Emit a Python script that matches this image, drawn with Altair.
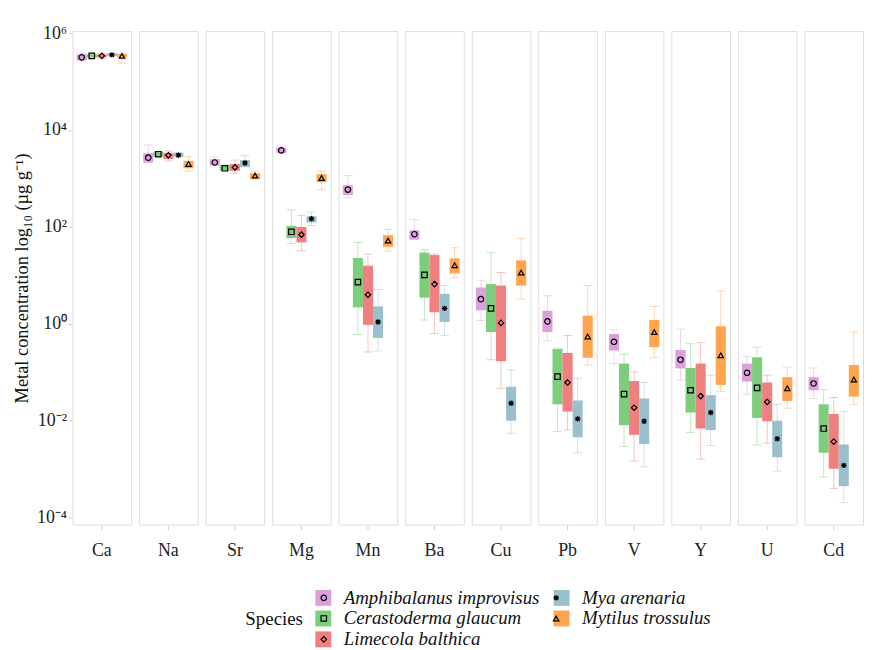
import altair as alt
import pandas as pd

metals = ["Ca", "Na", "Sr", "Mg", "Mn", "Ba", "Cu", "Pb", "V", "Y", "U", "Cd"]
species = ["Amphibalanus improvisus", "Cerastoderma glaucum", "Limecola balthica",
           "Mya arenaria", "Mytilus trossulus"]
colors = ["#DDA0DD", "#7CCD7C", "#F08080", "#9AC0CD", "#FFA54F"]
shapes = ["circle", "square", "diamond",
          "M-1,0L1,0M0,-1L0,1M-0.75,-0.75L0.75,0.75M-0.75,0.75L0.75,-0.75",
          "triangle-up"]

# log10 values per metal: [whisker low, Q1, median, Q3, whisker high]
amphibalanus = [
    [5.42, 5.44, 5.50, 5.56, 5.58], [3.33, 3.33, 3.43, 3.52, 3.69],
    [3.27, 3.27, 3.33, 3.40, 3.44], [3.52, 3.53, 3.58, 3.63, 3.66],
    [2.60, 2.66, 2.77, 2.86, 3.06], [1.74, 1.74, 1.85, 1.93, 2.15],
    [0.07, 0.28, 0.51, 0.75, 0.90], [-0.35, -0.17, 0.05, 0.27, 0.58],
    [-0.82, -0.55, -0.37, -0.21, -0.12], [-1.16, -0.92, -0.74, -0.54, -0.11],
    [-1.45, -1.19, -1.01, -0.82, -0.67], [-1.54, -1.37, -1.23, -1.10, -0.91],
]
cerastoderma = [
    [5.50, 5.50, 5.53, 5.56, 5.57], [3.45, 3.45, 3.50, 3.55, 3.55],
    [3.16, 3.16, 3.21, 3.28, 3.28], [1.66, 1.77, 1.90, 2.02, 2.35],
    [-0.22, 0.34, 0.86, 1.36, 1.68], [0.08, 0.54, 1.01, 1.47, 1.53],
    [-0.74, -0.17, 0.32, 0.82, 1.47], [-2.22, -1.66, -1.09, -0.52, -0.50],
    [-2.53, -2.09, -1.45, -0.82, -0.63], [-2.24, -1.83, -1.37, -0.91, -0.41],
    [-2.50, -1.94, -1.32, -0.69, -0.48], [-3.16, -2.66, -2.16, -1.66, -1.36],
]
limecola = [
    [5.48, 5.50, 5.53, 5.56, 5.58], [3.36, 3.40, 3.48, 3.53, 3.57],
    [3.11, 3.16, 3.23, 3.30, 3.38], [1.51, 1.68, 1.84, 2.00, 2.24],
    [-0.58, -0.02, 0.60, 1.20, 1.44], [-0.20, 0.24, 0.82, 1.42, 1.44],
    [-1.33, -0.77, 0.02, 0.79, 1.06], [-2.19, -1.81, -1.21, -0.60, -0.24],
    [-2.83, -2.29, -1.73, -1.18, -0.99], [-2.79, -2.16, -1.49, -0.82, -0.39],
    [-2.46, -2.01, -1.61, -1.21, -1.06], [-3.40, -2.99, -2.43, -1.86, -1.52],
]
mya = [
    [5.53, 5.53, 5.55, 5.58, 5.58], [3.45, 3.45, 3.48, 3.53, 3.53],
    [3.24, 3.24, 3.32, 3.38, 3.47], [2.03, 2.09, 2.17, 2.22, 2.31],
    [-0.56, -0.29, 0.04, 0.36, 0.71], [-0.24, 0.04, 0.32, 0.62, 0.79],
    [-2.26, -2.00, -1.64, -1.30, -0.95], [-2.66, -2.34, -1.96, -1.58, -1.12],
    [-2.95, -2.48, -2.01, -1.54, -1.21], [-2.51, -2.19, -1.83, -1.47, -1.06],
    [-3.04, -2.75, -2.37, -2.00, -1.66], [-3.69, -3.35, -2.92, -2.49, -1.81],
]
mytilus = [
    [5.38, 5.50, 5.53, 5.57, 5.57], [3.15, 3.21, 3.30, 3.36, 3.45],
    [2.99, 2.99, 3.06, 3.11, 3.15], [2.77, 2.92, 3.01, 3.09, 3.15],
    [1.50, 1.59, 1.72, 1.83, 1.95], [0.95, 1.04, 1.21, 1.35, 1.57],
    [0.51, 0.79, 1.06, 1.31, 1.76], [-0.85, -0.70, -0.26, 0.17, 0.79],
    [-0.69, -0.48, -0.17, 0.08, 0.36], [-1.40, -1.26, -0.65, -0.05, 0.68],
    [-1.74, -1.59, -1.33, -1.10, -0.89], [-1.66, -1.50, -1.15, -0.85, -0.17],
]

rows = []
for sp, table in zip(species, [amphibalanus, cerastoderma, limecola, mya, mytilus]):
    for m, v in zip(metals, table):
        rows.append({"metal": m, "species": sp, "marker": sp,
                     "lo": 10 ** v[0], "q1": 10 ** v[1], "med": 10 ** v[2],
                     "q3": 10 ** v[3], "hi": 10 ** v[4]})
df = pd.DataFrame(rows)

FONT = "Liberation Serif"
LEG_X, LEG_Y = 174, 561
common_legend = dict(
    title="Species", orient="none", legendX=LEG_X, legendY=LEG_Y,
    direction="vertical", columns=2, titleOrient="left", titleAnchor="middle",
    titleFont=FONT, titleFontSize=19, titleFontWeight="normal", titlePadding=10,
    labelFont=FONT, labelFontSize=19, labelFontStyle="italic", labelLimit=400,
    columnPadding=12, rowPadding=1,
)

yscale = alt.Scale(type="log", domain=[10 ** -4.143, 10 ** 6.041], nice=False)
yaxis = alt.Axis(
    title="Metal concentration log₁₀ (µg g⁻¹)",
    values=[1e-4, 1e-2, 1, 1e2, 1e4, 1e6],
    labelExpr="{'-4':'10⁻⁴','-2':'10⁻²','0':'10⁰','2':'10²','4':'10⁴','6':'10⁶'}[''+round(log(datum.value)/LN10)]",
    domain=False, grid=False, tickColor="#cccccc", tickSize=3,
    labelFont=FONT, labelFontSize=18, labelColor="#222222", labelPadding=2,
    titleFont=FONT, titleFontSize=18.5, titleFontWeight="normal", titleColor="#111111",
    titlePadding=5,
)
xaxis = alt.Axis(title=None, labels=False, values=[species[2]], domain=False, grid=False,
                 tickColor="#cccccc", tickSize=4)

xenc = alt.X("species:N", sort=species, axis=xaxis,
             scale=alt.Scale(paddingInner=0, paddingOuter=0.41))
color_enc = alt.Color(
    "species:N", scale=alt.Scale(domain=species, range=colors),
    legend=alt.Legend(
        titleColor="#111111", labelColor="#111111",
        symbolType="square", symbolSize=256, symbolStrokeWidth=0, symbolOpacity=1,
        labelOffset=11, **common_legend))
# shape scale takes its domain from the data (sorted), so its legend stays separate
# and is laid over the colour keys (its own title and labels are invisible)
shape_enc = alt.Shape(
    "marker:N", sort=species, scale=alt.Scale(range=shapes),
    legend=alt.Legend(
        titleColor="transparent", labelColor="transparent",
        symbolSize=30, symbolFillColor="transparent", symbolStrokeColor="black",
        symbolStrokeWidth=1.2, symbolOpacity=1, symbolOffset=0.5, labelOffset=5,
        zindex=2, **common_legend))

base = alt.Chart().encode(x=xenc, color=color_enc)

whisker = base.mark_rule(opacity=0.45, strokeWidth=1).encode(
    y=alt.Y("lo:Q", scale=yscale, axis=yaxis), y2="hi:Q")
cap_lo = base.mark_tick(orient="horizontal", size=9, thickness=1, opacity=0.45).encode(
    y=alt.Y("lo:Q", scale=yscale))
cap_hi = base.mark_tick(orient="horizontal", size=9, thickness=1, opacity=0.45).encode(
    y=alt.Y("hi:Q", scale=yscale))
box = base.mark_bar(opacity=1).encode(
    y=alt.Y("q1:Q", scale=yscale), y2="q3:Q")
median = alt.Chart().mark_point(filled=False, color="black", size=30, strokeWidth=1.2,
                                opacity=1).encode(
    x=xenc, y=alt.Y("med:Q", scale=yscale), shape=shape_enc)

layered = alt.layer(whisker, cap_lo, cap_hi, box, median, data=df).properties(
    width=59, height=497)

chart = layered.facet(
    column=alt.Column("metal:N", sort=metals, title=None,
                      header=alt.Header(labelOrient="bottom", labelFont=FONT,
                                        labelFontSize=18, labelColor="#222222",
                                        labelPadding=12)),
    spacing=6,
).properties(
    padding={"left": 4, "top": 14, "right": 0, "bottom": 0}
).configure_view(stroke="#d9d9d9", strokeWidth=1).configure(background="white")

chart.save("out.html", embed_options={"renderer": "svg", "actions": False})
